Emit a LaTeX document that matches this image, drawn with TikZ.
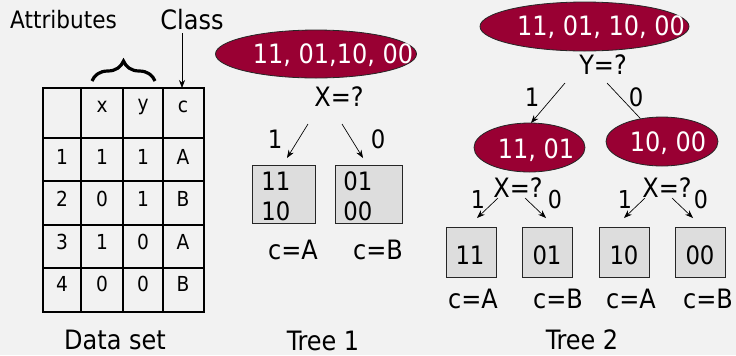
\documentclass[tikz,border=0pt]{standalone}
\usepackage{fontspec}
\setmainfont{DejaVu Sans Condensed}
\usetikzlibrary{shapes.geometric,arrows.meta,decorations.pathreplacing}
\definecolor{bg}{HTML}{F2F2F2}
\definecolor{wine}{HTML}{990033}
\definecolor{leafgray}{HTML}{DDDDDD}
\tikzset{
  ell/.style={ellipse, draw=black!85, fill=wine, line width=0.6pt, inner sep=0pt},
  wt/.style={text=white, font=\fontsize{20}{24}\selectfont, inner sep=0pt},
  q/.style={font=\fontsize{20}{24}\selectfont, inner sep=0pt},
  bit/.style={font=\fontsize{19}{22}\selectfont, inner sep=0pt},
  sbit/.style={font=\fontsize{18.5}{22}\selectfont, inner sep=0pt},
  cl/.style={font=\fontsize{20}{24}\selectfont, inner sep=0pt},
  ttl/.style={font=\fontsize{20}{24}\selectfont, inner sep=0pt},
  tab/.style={font=\fontsize{15.5}{18}\selectfont, inner sep=0pt},
  leafbox/.style={draw=black!85, fill=leafgray, line width=0.6pt, inner sep=0pt},
  arr/.style={-{Stealth[length=6pt,width=4.5pt]}, line width=0.5pt},
}
\begin{document}
\begin{tikzpicture}[x=0.75pt,y=-0.75pt]
\fill[bg] (0,0) rectangle (736,355);
\useasboundingbox (0,0) rectangle (736,355);

% ---------- Data set ----------
\node[font=\fontsize{18}{21}\selectfont, inner sep=0pt] (attr) at (63.5,20) {Attributes};
\node[font=\fontsize{20}{24}\selectfont, inner sep=0pt] (cls) at (192,20) {Class};
\coordinate (clsbot) at (182,33);
\coordinate (clstop) at (182,88);
\draw[arr] (clsbot) -- (clstop);
\draw[decorate, decoration={brace, amplitude=15pt}, line width=2.4pt] (92,81) -- (155,81);

\draw[line width=0.8pt] (81,88) -- (81,312) (123,88) -- (123,312) (163,88) -- (163,312);
\draw[line width=0.8pt] (43,138) -- (204,138) (43,181) -- (204,181) (43,225) -- (204,225) (43,268) -- (204,268);
\draw[line width=1.6pt] (43,88) rectangle (204,312);

\node[tab] (hx) at (102,107) {x};
\node[tab] (hy) at (143,107) {y};
\node[tab] (hc) at (183,107) {c};
\node[tab] (a1) at (62,157) {1}; \node[tab] (b1) at (102,157) {1}; \node[tab] (c1) at (143,157) {1}; \node[tab] (d1) at (183,157) {A};
\node[tab] (a2) at (62,199) {2}; \node[tab] (b2) at (102,199) {0}; \node[tab] (c2) at (143,199) {1}; \node[tab] (d2) at (183,199) {B};
\node[tab] (a3) at (62,242) {3}; \node[tab] (b3) at (102,242) {1}; \node[tab] (c3) at (143,242) {0}; \node[tab] (d3) at (183,242) {A};
\node[tab] (a4) at (62,284) {4}; \node[tab] (b4) at (102,284) {0}; \node[tab] (c4) at (143,284) {0}; \node[tab] (d4) at (183,284) {B};
\node[ttl] (ds) at (115,340) {Data set};

% ---------- Tree 1 ----------
\node[ell, minimum width=150.75pt, minimum height=36pt] (r1) at (316,54) {};
\node[wt] (r1t) at (333,55) {11, 01,10, 00};
\node[q] (xq1) at (339,97) {X=?};
\coordinate (t1ls) at (308,124); \coordinate (t1le) at (287,158);
\coordinate (t1rs) at (342,124); \coordinate (t1re) at (363,158);
\draw[arr] (t1ls) -- (t1le);
\draw[arr] (t1rs) -- (t1re);
\node[bit] (t1one) at (275,139) {1};
\node[bit] (t1zero) at (378,139) {0};
\node[leafbox, minimum width=47.25pt, minimum height=43.5pt] (l1) at (283.5,194) {};
\node[leafbox, minimum width=50.25pt, minimum height=43.5pt] (l2) at (368.5,194) {};
\node[bit, anchor=west] (l1a) at (261,181) {11};
\node[bit, anchor=west] (l1b) at (261,211) {10};
\node[bit, anchor=west] (l2a) at (343,181) {01};
\node[bit, anchor=west] (l2b) at (343,211) {00};
\node[cl] (ca1) at (293,250) {c=A};
\node[cl] (cb1) at (378,250) {c=B};
\node[ttl] (tr1) at (323,341) {Tree 1};

% ---------- Tree 2 ----------
\node[ell, minimum width=156.75pt, minimum height=36.75pt] (r2) at (584.5,26.5) {};
\node[wt] (r2t) at (601,27) {11, 01, 10, 00};
\node[q] (yq) at (603,65) {Y=?};
\node[ell, minimum width=83.25pt, minimum height=36.75pt] (n11) at (529.5,147.5) {};
\node[wt] (n11t) at (536,150) {11, 01};
\node[ell, minimum width=84pt, minimum height=36.75pt] (n10) at (662,141.5) {};
\node[wt] (n10t) at (668,143) {10, 00};
\coordinate (ylS) at (565,83); \coordinate (ylE) at (531,123);
\coordinate (yrS) at (607,83);
\draw[arr] (ylS) -- (ylE);
\draw[line width=0.5pt] (yrS) -- (n10);
\node[bit] (y1) at (532,97) {1};
\node[bit] (y0) at (636,97) {0};

\node[q] (xqa) at (518,188) {X=?};
\node[q] (xqb) at (667,188) {X=?};
\coordinate (aLs) at (498,198); \coordinate (aLe) at (477,218);
\coordinate (aRs) at (525,198); \coordinate (aRe) at (546,218);
\coordinate (bLs) at (645,198); \coordinate (bLe) at (624,218);
\coordinate (bRs) at (672,198); \coordinate (bRe) at (693,218);
\draw[arr] (aLs) -- (aLe); \draw[arr] (aRs) -- (aRe);
\draw[arr] (bLs) -- (bLe); \draw[arr] (bRs) -- (bRe);
\node[sbit] (a1l) at (478,200) {1};
\node[sbit] (a0l) at (555,200) {0};
\node[sbit] (b1l) at (625,200) {1};
\node[sbit] (b0l) at (701,200) {0};

\node[leafbox, minimum width=37.5pt, minimum height=37.5pt] (m1) at (471,252) {};
\node[leafbox, minimum width=37pt, minimum height=37.5pt] (m2) at (547.5,252) {};
\node[leafbox, minimum width=37.5pt, minimum height=37.5pt] (m3) at (624,252) {};
\node[leafbox, minimum width=37pt, minimum height=37.5pt] (m4) at (700.5,252) {};
\node[bit] (m1t) at (470,255) {11};
\node[bit] (m2t) at (547,255) {01};
\node[bit] (m3t) at (624,255) {10};
\node[bit] (m4t) at (700,255) {00};
\node[cl] (ca2) at (473,299) {c=A};
\node[cl] (cb2) at (558,299) {c=B};
\node[cl] (ca3) at (631,299) {c=A};
\node[cl] (cb3) at (708,299) {c=B};
\node[ttl] (tr2) at (582,340) {Tree 2};
\end{tikzpicture}
\end{document}
